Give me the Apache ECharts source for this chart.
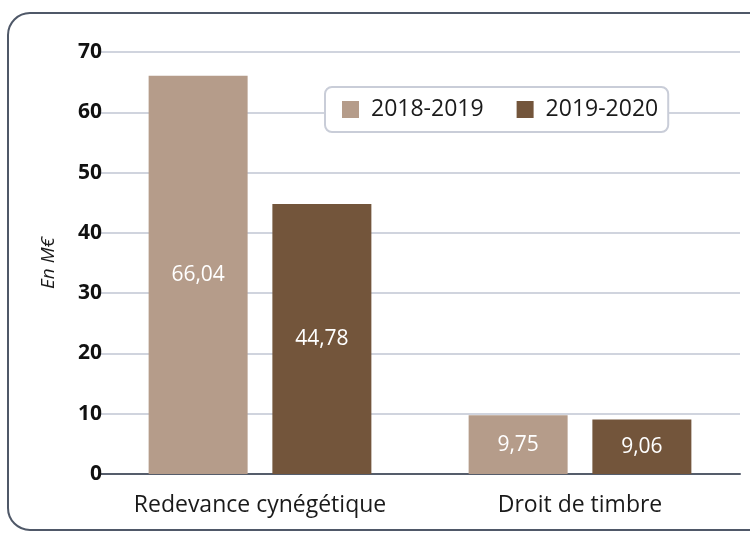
<!DOCTYPE html>
<html lang="fr">
<head>
    <meta charset="UTF-8">
    <title>Redevance cynégétique et droit de timbre</title>
    <style>
        html, body {
            margin: 0;
            padding: 0;
            background: #ffffff;
        }
        #chart {
            width: 750px;
            height: 538px;
        }
    </style>
    <script src="https://cdn.jsdelivr.net/npm/echarts@6/dist/echarts.min.js"></script>
</head>
<body>
    <div id="chart"></div>
    <script>
        // données
        const categories = ['Redevance cynégétique', 'Droit de timbre'];
        const seriesNames = ['2018-2019', '2019-2020'];
        const values2018 = [66.04, 9.75];
        const values2019 = [44.78, 9.06];
        const yTicks = [0, 10, 20, 30, 40, 50, 60, 70];

        const colors = ['#b59c8a', '#73553b'];
        const font = "'Open Sans', 'Noto Sans', sans-serif";

        function fmt(p) {
            return p.value.toFixed(2).replace('.', ',');
        }

        function makeSeries(name, data, color) {
            return {
                name: name,
                type: 'bar',
                data: data,
                barWidth: 99,
                barGap: '25%',
                itemStyle: { color: color },
                label: {
                    show: true,
                    position: 'inside',
                    formatter: fmt,
                    color: '#ffffff',
                    fontSize: 21,
                    fontFamily: font
                }
            };
        }

        const chart = echarts.init(document.getElementById('chart'));
        chart.setOption({
            animation: false,
            graphic: [{
                type: 'rect',
                shape: { x: 8, y: 13, width: 770, height: 517, r: 22 },
                style: { fill: 'none', stroke: '#4f5868', lineWidth: 2 },
                z: -1
            }],
            legend: {
                data: seriesNames,
                left: 325,
                top: 87,
                padding: [11, 10, 11, 17],
                itemWidth: 17,
                itemHeight: 17,
                itemGap: 33,
                icon: 'rect',
                backgroundColor: '#ffffff',
                borderColor: '#c9cdd8',
                borderWidth: 2,
                borderRadius: 7,
                textStyle: {
                    fontSize: 23,
                    color: '#1a1a1a',
                    fontFamily: font,
                    padding: [0, 0, 0, 7]
                }
            },
            grid: {
                left: 100,
                right: 10,
                top: 52,
                bottom: 64,
                containLabel: false
            },
            xAxis: {
                type: 'category',
                data: categories,
                axisTick: { show: false },
                axisLine: { lineStyle: { color: '#555d6b', width: 2 } },
                axisLabel: {
                    interval: 0,
                    fontSize: 23,
                    color: '#1a1a1a',
                    margin: 20,
                    fontFamily: font
                }
            },
            yAxis: {
                type: 'value',
                min: yTicks[0],
                max: yTicks[yTicks.length - 1],
                interval: 10,
                name: 'En M€',
                nameLocation: 'middle',
                nameGap: 42,
                nameTextStyle: {
                    fontStyle: 'italic',
                    fontSize: 19,
                    color: '#1a1a1a',
                    fontFamily: font
                },
                axisLine: { show: false },
                axisTick: { show: false },
                axisLabel: {
                    fontSize: 21,
                    fontWeight: 'bold',
                    color: '#111111',
                    margin: -2,
                    fontFamily: font
                },
                splitLine: { lineStyle: { color: '#d0d4de', width: 2 } }
            },
            series: [
                makeSeries(seriesNames[0], values2018, colors[0]),
                makeSeries(seriesNames[1], values2019, colors[1])
            ]
        });
    </script>
</body>
</html>
